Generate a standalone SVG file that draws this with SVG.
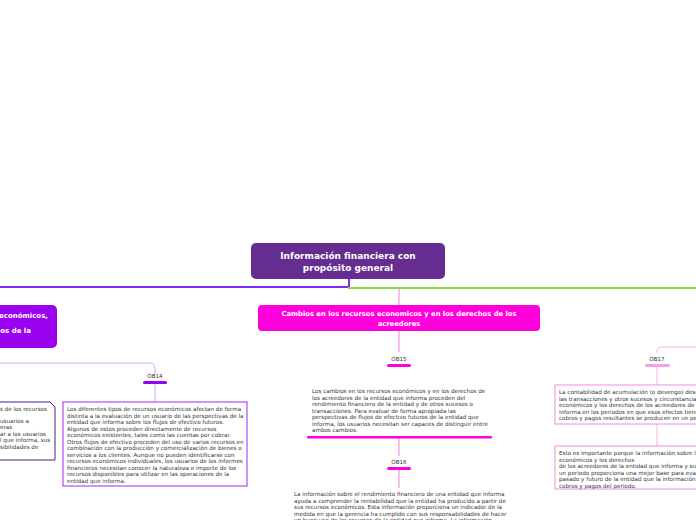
<svg xmlns="http://www.w3.org/2000/svg" width="696" height="520" viewBox="0 0 696 520">
<style>
.t{font-family:"DejaVu Sans",sans-serif;font-size:5.6px;fill:#333}
.h{font-family:"DejaVu Sans",sans-serif;font-weight:bold;fill:#fff;text-anchor:middle}
.he{font-family:"DejaVu Sans",sans-serif;font-weight:bold;fill:#fff;text-anchor:end}
.lb{font-family:"DejaVu Sans",sans-serif;font-size:5.6px;fill:#333;text-anchor:middle}
</style>
<rect width="696" height="520" fill="#fff"/>
<g id="connectors" fill="none">
<path d="M349 279V287H0" stroke="#7b2cf0" stroke-width="2"/>
<path d="M349 287V288H696" stroke="#80e040" stroke-width="2"/>
<path d="M399 288V305" stroke="#f080e0" stroke-width="1"/>
<path d="M0 363H150Q155 363 155 368V374" stroke="#d8a8f0" stroke-width="1"/>
<path d="M155 384V402" stroke="#d8a8f0" stroke-width="1"/>
<path d="M399 331V352M399 438V456M399 470V488" stroke="#f080e0" stroke-width="1"/>
<path d="M696 347H662Q657 347 657 352V353M657 367V385M657 424V446" stroke="#f5b0e8" stroke-width="1"/>
</g>
<g id="root"><rect x="251" y="243" width="194" height="36" rx="5" fill="#662d91"/>
<text class="h" font-size="9" x="348" y="259">Información financiera con</text>
<text class="h" font-size="9" x="348" y="271">propósito general</text></g>
<g id="left"><rect x="-20" y="305" width="77" height="43" rx="5" fill="#9900ee"/>
<text class="he" font-size="7" x="48" y="318">económicos,</text>
<text class="he" font-size="7" x="31" y="333">os de la</text></g>
<g id="n-left-text"><path d="M-5 402H50L55 407V460H-5Z" fill="#fff" stroke="#4b1a8c" stroke-width="1"/>
<text class="t" x="0" y="411">s de los recursos</text>
<text class="t" x="0" y="423">usuarios a</text>
<text class="t" x="0" y="429">eras</text>
<text class="t" x="0" y="436">ar a los usuarios</text>
<text class="t" x="0" y="442">l que informa, sus</text>
<text class="t" x="0" y="449">sibilidades de</text></g>
<g id="ob14"><text class="lb" x="155" y="378">OB14</text><rect x="143" y="381" width="24" height="3" rx="1.5" fill="#9900ee"/>
<rect x="63" y="402" width="184" height="84" fill="#fff" stroke="#b44cf0" stroke-width="1.2"/>
<text class="t" x="67" y="411">Los diferentes tipos de recursos económicos afectan de forma</text>
<text class="t" x="67" y="417.5">distinta a la evaluación de un usuario de las perspectivas de la</text>
<text class="t" x="67" y="424">entidad que informa sobre los flujos de efectivo futuros.</text>
<text class="t" x="67" y="430.5">Algunos de estos proceden directamente de recursos</text>
<text class="t" x="67" y="437">económicos existentes, tales como las cuentas por cobrar.</text>
<text class="t" x="67" y="443.5">Otros flujos de efectivo proceden del uso de varios recursos en</text>
<text class="t" x="67" y="450">combinación con la producción y comercialización de bienes o</text>
<text class="t" x="67" y="456.5">servicios a los clientes. Aunque no pueden identificarse con</text>
<text class="t" x="67" y="463">recursos económicos individuales, los usuarios de los informes</text>
<text class="t" x="67" y="469.5">financieros necesitan conocer la naturaleza e importe de los</text>
<text class="t" x="67" y="476">recursos disponibles para utilizar en las operaciones de la</text>
<text class="t" x="67" y="482.5">entidad que informa.</text></g>
<g id="center"><rect x="258" y="305" width="282" height="26" rx="4" fill="#ff00dd"/>
<text class="h" font-size="6.8" x="399" y="316">Cambios en los recursos economicos y en los derechos de los</text>
<text class="h" font-size="6.8" x="399" y="326">acreedores</text></g>
<g id="ob15"><text class="lb" x="399" y="361">OB15</text><rect x="387" y="364" width="24" height="3" rx="1.5" fill="#ff00dd"/>
<text class="t" x="312" y="393">Los cambios en los recursos económicos y en los derechos de</text>
<text class="t" x="312" y="399.5">los acreedores de la entidad que informa proceden del</text>
<text class="t" x="312" y="406">rendimiento financiero de la entidad  y de otros sucesos o</text>
<text class="t" x="312" y="412.5">transacciones. Para evaluar de forma apropiada las</text>
<text class="t" x="312" y="419">perspectivas de flujos de efectivo futuros de la entidad que</text>
<text class="t" x="312" y="425.5">informa, los usuarios necesitan ser capaces de distinguir entre</text>
<text class="t" x="312" y="432">ambos cambios.</text>
<rect x="307" y="436" width="185" height="2.5" rx="1.2" fill="#ff00dd"/></g>
<g id="ob16"><text class="lb" x="399" y="464">OB16</text><rect x="387" y="467" width="24" height="3" rx="1.5" fill="#ff00dd"/>
<text class="t" x="294" y="496">La información sobre el rendimiento financiero de una entidad que informa</text>
<text class="t" x="294" y="502.5">ayuda a comprender la rentabilidad que la entidad ha producido a partir de</text>
<text class="t" x="294" y="509">sus recursos económicos. Esta información proporciona un indicador de la</text>
<text class="t" x="294" y="515.5">medida en que la gerencia ha cumplido con sus responsabilidades de hacer</text>
<text class="t" x="294" y="522">un buen uso de los recursos de la entidad que informa. La información</text></g>
<g id="ob17"><text class="lb" x="657" y="361">OB17</text><rect x="645" y="364" width="25" height="3" rx="1.5" fill="#f5a0e6"/>
<rect x="555" y="385" width="150" height="39" fill="#fff" stroke="#f08ce0" stroke-width="1"/>
<text class="t" x="559" y="394">La contabilidad de acumulación (o devengo) describe</text>
<text class="t" x="559" y="400.5">las transacciones y otros sucesos y circunstancias</text>
<text class="t" x="559" y="407">económicos y los derechos de los acreedores de la</text>
<text class="t" x="559" y="413.5">informa en los periodos en que esos efectos tienen</text>
<text class="t" x="559" y="420">cobros y pagos resultantes se producen en un periodo</text>
<rect x="555" y="446" width="150" height="43" fill="#fff" stroke="#f08ce0" stroke-width="1"/>
<text class="t" x="559" y="455">Esto es importante porque la información sobre los</text>
<text class="t" x="559" y="461.5">económicos y los derechos</text>
<text class="t" x="559" y="468"> de los acreedores de la entidad que informa y sus</text>
<text class="t" x="559" y="474.5">un periodo proporciona una mejor base para evaluar</text>
<text class="t" x="559" y="481">pasado y futuro de la entidad que la información</text>
<text class="t" x="559" y="487.5">cobros y pagos del periodo.</text></g>
</svg>
